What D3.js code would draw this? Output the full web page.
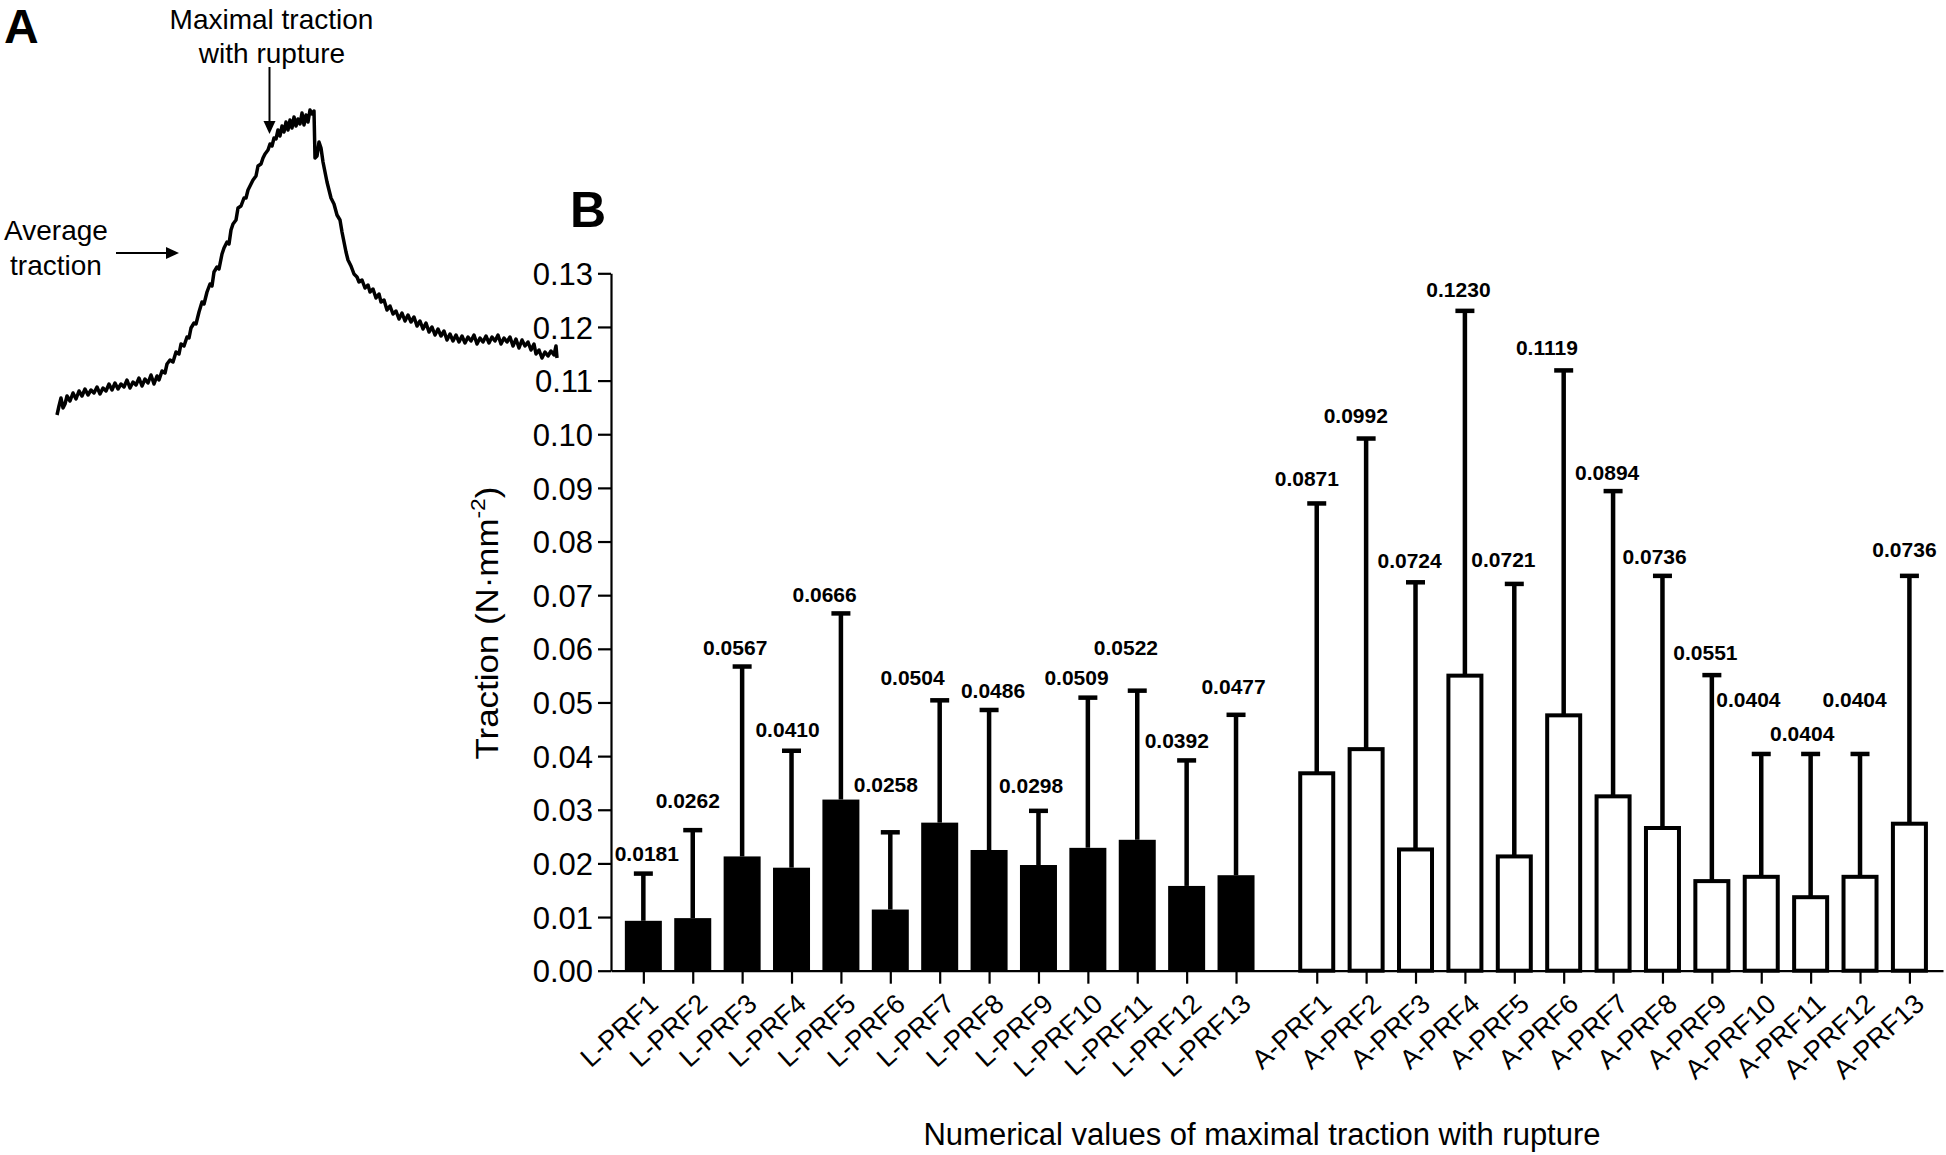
<!DOCTYPE html>
<html><head><meta charset="utf-8">
<script src="https://cdn.jsdelivr.net/npm/d3@7"></script>
<style>
body{margin:0;background:#fff;}
svg{display:block;}
text{font-family:"Liberation Sans",Arial,Helvetica,sans-serif;fill:#000;}
</style>
</head><body>
<svg id="c" width="1946" height="1155"></svg>
<script>
// ---------- DATA ----------
const categoriesL = ["L-PRF1","L-PRF2","L-PRF3","L-PRF4","L-PRF5","L-PRF6","L-PRF7","L-PRF8","L-PRF9","L-PRF10","L-PRF11","L-PRF12","L-PRF13"];
const categoriesA = ["A-PRF1","A-PRF2","A-PRF3","A-PRF4","A-PRF5","A-PRF6","A-PRF7","A-PRF8","A-PRF9","A-PRF10","A-PRF11","A-PRF12","A-PRF13"];
const meanL = [0.0093,0.0098,0.0213,0.0192,0.0319,0.0114,0.0276,0.0225,0.0197,0.0229,0.0244,0.0158,0.0178];
const maxL  = [0.0181,0.0262,0.0567,0.0410,0.0666,0.0258,0.0504,0.0486,0.0298,0.0509,0.0522,0.0392,0.0477];
const meanA = [0.0368,0.0413,0.0226,0.0550,0.0213,0.0476,0.0325,0.0266,0.0167,0.0175,0.0137,0.0175,0.0274];
const maxA  = [0.0871,0.0992,0.0724,0.1230,0.0721,0.1119,0.0894,0.0736,0.0551,0.0404,0.0404,0.0404,0.0736];
const yTicks = [0,0.01,0.02,0.03,0.04,0.05,0.06,0.07,0.08,0.09,0.10,0.11,0.12,0.13];
// value-label anchors (data units: y value, x shift in category steps)
const labelYL  = [0.0204,0.0303,0.0588,0.0436,0.0688,0.0334,0.0532,0.0509,0.0331,0.0532,0.0588,0.0416,0.0516];
const labelDxL = [0.07,-0.10,-0.14,-0.08,-0.33,-0.09,-0.55,0.08,-0.15,-0.23,-0.23,-0.20,-0.05];
const labelYA  = [0.0903,0.1021,0.0750,0.1256,0.0753,0.1148,0.0915,0.0758,0.0579,0.0491,0.0428,0.0491,0.0771];
const labelDxA = [-0.20,-0.21,-0.12,-0.13,-0.22,-0.34,-0.12,-0.16,-0.13,-0.26,-0.17,-0.11,-0.10];
// panel A trace: [time, force] (arbitrary units)
const tracePoints = [[0,5],[2,14],[4,22],[6,12],[8,16],[10,24],[13,19],[16,27],[19,21],[22,29],[25,24],[28,31],[31,25],[34,30],[37,27],[40,33],[43,26],[46,32],[49,29],[52,36],[55,30],[58,37],[61,31],[64,36],[67,33],[70,40],[73,32],[76,38],[79,35],[82,42],[85,34],[88,41],[91,37],[94,45],[97,36],[100,44],[102,40],
[105,49],[108,47],[110,56],[113,60],[116,58],[119,68],[122,66],[124,76],[127,74],[130,83],[132,82],[134,92],[137,97],[139,96],[142,108],[145,118],[147,116],[150,128],[153,136],[155,134],[157,148],[160,153],[162,151],[165,166],[167,172],[170,178],[172,176],[174,190],[176,196],[179,200],[181,212],[184,214],[187,222],[189,222],[191,230],[194,236],[196,240],[199,244],[201,254],[204,256],[206,262],[208,266],[211,270],[213,276],[215,274],[217,282],[219,281],[221,290],[223,284],[225,294],[227,288],[229,298],[231,290],[233,300],[235,292],[237,303],[239,294],[241,301],[243,296],[245,307],[247,295],[249,305],[251,298],[253,310],[255,306],[257,309],
[258,262],[260,264],[262,278],[264,272],[266,258],[268,248],[270,238],[272,230],[274,222],[277,216],[280,205],[283,200],[285,188],[287,178],[289,168],[291,160],[294,154],[297,146],[300,143],[302,138],[305,140],[308,132],[311,135],[313,128],[316,131],[319,122],[322,126],[324,118],[327,120],[330,110],[333,114],[336,106],[339,109],[342,101],[345,107],[348,99],[351,105],[354,98],[357,103],[360,94],[363,99],[366,91],[369,97],[372,88],[375,93],[378,85],[381,91],[384,84],[387,89],[390,80],[393,86],[396,79],[399,85],[402,78],[405,84],[408,77],[411,83],[414,79],[417,85],[420,76],[423,82],[426,78],[429,84],[432,77],[435,83],[438,79],[441,85],[444,76],[447,82],[450,78],[453,83],[456,74],[459,81],[462,72],[465,80],[468,74],[471,78],[474,70],[477,76],[479,66],[482,70],[485,62],[488,68],[491,64],[494,69],[497,65],[499,74],[500,62]];

// ---------- LAYOUT ----------
const svg = d3.select("#c");
svg.append("rect").attr("width",1946).attr("height",1155).attr("fill","#fff");

const plot = {left:611, right:1943, top:273.3, bottom:970.7};
const groupGap = 0.634;
const cats = categoriesL.concat(categoriesA);
const nL = categoriesL.length;
const pos = cats.map((c,i)=> i < nL ? i : i + groupGap);
const lastPos = pos[pos.length-1];
const x = d3.scaleLinear().domain([-0.655, lastPos + 0.68]).range([plot.left, plot.right]);
const y = d3.scaleLinear().domain([0,0.13]).range([plot.bottom, plot.top]);
const step = x(1) - x(0);

const means = meanL.concat(meanA);
const maxs = maxL.concat(maxA);
const labY = labelYL.concat(labelYA);
const labDx = labelDxL.concat(labelDxA);
const rows = cats.map((c,i)=>({cat:c, p:pos[i], mean:means[i], max:maxs[i], ly:labY[i], ldx:labDx[i], open: i>=nL}));

const B = svg.append("g");

// bars
B.selectAll("rect.filled").data(rows.filter(d=>!d.open)).join("rect")
  .attr("class","filled")
  .attr("x", d=>x(d.p) - 18.5).attr("width", 37)
  .attr("y", d=>y(d.mean)).attr("height", d=>y(0)-y(d.mean))
  .attr("fill","#000");
B.selectAll("rect.open").data(rows.filter(d=>d.open)).join("rect")
  .attr("class","open")
  .attr("x", d=>x(d.p) - 16.5).attr("width", 33)
  .attr("y", d=>y(d.mean)).attr("height", d=>y(0)-y(d.mean))
  .attr("fill","#fff").attr("stroke","#000").attr("stroke-width",4);

// error bars
B.selectAll("line.err").data(rows).join("line")
  .attr("class","err")
  .attr("x1", d=>x(d.p)).attr("x2", d=>x(d.p))
  .attr("y1", d=>y(d.mean)).attr("y2", d=>y(d.max))
  .attr("stroke","#000").attr("stroke-width",4.5);
B.selectAll("line.cap").data(rows).join("line")
  .attr("class","cap")
  .attr("x1", d=>x(d.p)-9.5).attr("x2", d=>x(d.p)+9.5)
  .attr("y1", d=>y(d.max)).attr("y2", d=>y(d.max))
  .attr("stroke","#000").attr("stroke-width",4.5);

// value labels
B.selectAll("text.val").data(rows).join("text")
  .attr("class","val")
  .attr("x", d=>x(d.p) + d.ldx*step).attr("y", d=>y(d.ly))
  .attr("text-anchor","middle")
  .attr("font-weight","bold").attr("font-size",21)
  .text(d=>d3.format(".4f")(d.max));

// y axis
const ya = B.append("g").attr("transform",`translate(${plot.left},0)`)
  .call(d3.axisLeft(y).tickValues(yTicks).tickFormat(d3.format(".2f")).tickSize(13).tickSizeOuter(0).tickPadding(5));
ya.select(".domain").attr("stroke-width",2.2);
ya.selectAll(".tick line").attr("stroke-width",2.2);
ya.selectAll(".tick text").attr("font-size",31).attr("font-family","Liberation Sans, Arial, sans-serif").attr("dy","0.36em");

// x axis
const xa = B.append("g").attr("transform",`translate(0,${plot.bottom})`)
  .call(d3.axisBottom(x).tickValues(pos).tickFormat((d,i)=>cats[i]).tickSize(13).tickSizeOuter(0));
xa.select(".domain").attr("stroke-width",2.2);
xa.selectAll(".tick line").attr("stroke-width",2.2);
xa.selectAll(".tick text")
  .attr("font-size",27).attr("font-family","Liberation Sans, Arial, sans-serif")
  .attr("text-anchor","end").attr("x",0).attr("y",0).attr("dy","0.72em")
  .attr("transform","translate(3,21) rotate(-42)");

// axis titles
const ytg = B.append("g").attr("transform","translate(498,623) rotate(-90)");
const yt = ytg.append("text").attr("text-anchor","middle").attr("font-size",32);
yt.append("tspan").text("Traction (N·mm");
yt.append("tspan").attr("font-size",21).attr("dy",-13).text("-2");
yt.append("tspan").attr("dy",13).text(")");
const ytw = yt.node().getBBox().width;
yt.attr("transform",`scale(${273/ytw},1)`);

B.append("text").attr("x",1262).attr("y",1145).attr("text-anchor","middle").attr("font-size",31)
  .text("Numerical values of maximal traction with rupture");

B.append("text").attr("x",570).attr("y",227).attr("font-size",50).attr("font-weight","bold").text("B");

// ---------- PANEL A ----------
const A = svg.append("g");
A.append("text").attr("x",4).attr("y",43).attr("font-size",48).attr("font-weight","bold").text("A");
const tx = d3.scaleLinear().domain([0,500]).range([57,557]);
const ty = d3.scaleLinear().domain([0,300]).range([420,120]);
A.append("path").datum(tracePoints)
  .attr("d", d3.line().x(d=>tx(d[0])).y(d=>ty(d[1])))
  .attr("fill","none").attr("stroke","#000").attr("stroke-width",3.5).attr("stroke-linejoin","round");

A.append("text").attr("x",271.5).attr("y",29).attr("text-anchor","middle").attr("font-size",28).text("Maximal traction");
A.append("text").attr("x",272).attr("y",63).attr("text-anchor","middle").attr("font-size",28).text("with rupture");
A.append("line").attr("x1",269.5).attr("x2",269.5).attr("y1",67).attr("y2",123).attr("stroke","#000").attr("stroke-width",2);
A.append("path").attr("d","M263.5,121 L275.5,121 L269.5,134 Z").attr("fill","#000");

A.append("text").attr("x",56).attr("y",240).attr("text-anchor","middle").attr("font-size",28).text("Average");
A.append("text").attr("x",56).attr("y",275).attr("text-anchor","middle").attr("font-size",28).text("traction");
A.append("line").attr("x1",116).attr("x2",168).attr("y1",253).attr("y2",253).attr("stroke","#000").attr("stroke-width",2);
A.append("path").attr("d","M166,247 L166,259 L179,253 Z").attr("fill","#000");
</script>
</body></html>
